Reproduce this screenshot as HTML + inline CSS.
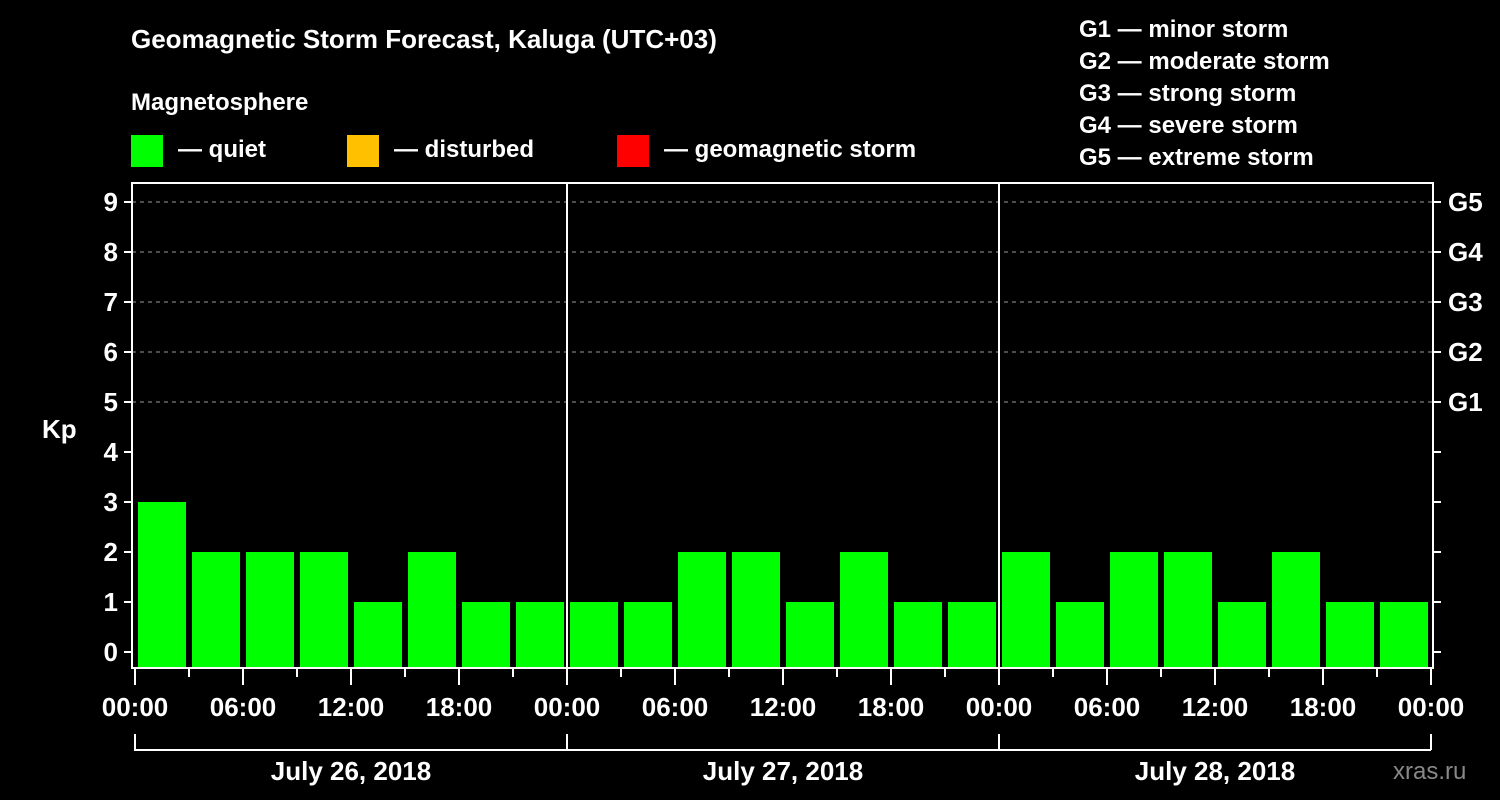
<!DOCTYPE html>
<html><head><meta charset="utf-8"><style>
html,body{margin:0;padding:0;background:#000;}
svg{display:block;font-family:"Liberation Sans",Arial,sans-serif;font-weight:bold;}
</style></head><body>
<svg id="chart" width="1500" height="800" viewBox="0 0 1500 800">
<rect width="1500" height="800" fill="#000"/>
<text x="131" y="48" fill="#fff" font-size="26">Geomagnetic Storm Forecast, Kaluga (UTC+03)</text>
<text x="131" y="110" fill="#fff" font-size="24">Magnetosphere</text>
<g><rect x="131" y="135" width="32" height="32" fill="#00ff00"/><text x="178" y="157" fill="#fff" font-size="24">— quiet</text></g>
<g><rect x="347" y="135" width="32" height="32" fill="#ffc000"/><text x="394" y="157" fill="#fff" font-size="24">— disturbed</text></g>
<g><rect x="617" y="135" width="32" height="32" fill="#ff0000"/><text x="664" y="157" fill="#fff" font-size="24">— geomagnetic storm</text></g>
<g fill="#fff" font-size="24">
<text x="1079" y="37">G1 — minor storm</text>
<text x="1079" y="69">G2 — moderate storm</text>
<text x="1079" y="101">G3 — strong storm</text>
<text x="1079" y="133">G4 — severe storm</text>
<text x="1079" y="165">G5 — extreme storm</text>
</g>
<text x="42" y="438" fill="#fff" font-size="26">Kp</text>
<text x="1393" y="779" fill="#888" font-size="24" font-weight="normal">xras.ru</text>
<g id="plot"></g>
</svg>
<script>
const kpValues=[3,2,2,2,1,2,1,1, 1,1,2,2,1,2,1,1, 2,1,2,2,1,2,1,1];
const dayLabels=["July 26, 2018","July 27, 2018","July 28, 2018"];
const hourLabels=["00:00","06:00","12:00","18:00"];
const gLabels=["G1","G2","G3","G4","G5"];
const yTicks=[0,1,2,3,4,5,6,7,8,9];

const NS="http://www.w3.org/2000/svg";
const plot=document.getElementById('plot');
const X0=135,SLOT=54,Y0=652,UNIT=50,TOP=183,BOT=668,LEFT=132,RIGHT=1433;
const xs=i=>X0+i*SLOT;
const ys=v=>Y0-v*UNIT;
function mk(tag,attrs,parent){const e=document.createElementNS(NS,tag);for(const k in attrs)e.setAttribute(k,attrs[k]);(parent||plot).appendChild(e);return e;}

// gridlines
for(let v=5;v<=9;v++){
  const l=mk('line',{x1:LEFT,x2:RIGHT,y1:ys(v),y2:ys(v),stroke:'#999','stroke-dasharray':'4,4','stroke-width':1});
  
  
}
// bars
kpValues.forEach((v,i)=>{
  const c=v>=5?'#ff0000':(v>=4?'#ffc000':'#00ff00');
  const r=mk('rect',{x:xs(i)+3,y:ys(v),width:SLOT-6,height:BOT-ys(v),fill:c});
  
  
});
// axes box
const box=mk('rect',{x:LEFT,y:TOP,width:RIGHT-LEFT,height:BOT-TOP,fill:'none',stroke:'#fff','stroke-width':2});


for(let d=1;d<3;d++){
  const l=mk('line',{x1:xs(d*8),x2:xs(d*8),y1:TOP,y2:BOT,stroke:'#fff','stroke-width':2});
  
  
}
// y ticks
yTicks.forEach(v=>{
  mk('line',{x1:LEFT-8,x2:LEFT,y1:ys(v),y2:ys(v),stroke:'#fff','stroke-width':2});
  mk('line',{x1:RIGHT,x2:RIGHT+8,y1:ys(v),y2:ys(v),stroke:'#fff','stroke-width':2});
  const t=mk('text',{x:LEFT-14,y:ys(v)+9,fill:'#fff','font-size':26,'text-anchor':'end'});
  t.textContent=v;
  
  
});
gLabels.forEach((g,i)=>{
  const t=mk('text',{x:1448,y:ys(i+5)+9,fill:'#fff','font-size':26});
  t.textContent=g;
  
  
});
// x ticks
for(let i=0;i<=24;i++){
  const major=i%2===0;
  mk('line',{x1:xs(i),x2:xs(i),y1:BOT,y2:BOT+(major?17:9),stroke:'#fff','stroke-width':2});
  if(major){
    const t=mk('text',{x:xs(i),y:716,fill:'#fff','font-size':26,'text-anchor':'middle'});
    t.textContent=hourLabels[(i/2)%4];
    
    
  }
}
// day brackets
dayLabels.forEach((d,k)=>{
  const a=xs(k*8),b=xs(k*8+8);
  mk('path',{d:`M${a} 734 V750 H${b}`+(k===2?` M${b} 734 V750`:''),stroke:'#fff','stroke-width':2,fill:'none'});
  const t=mk('text',{x:(a+b)/2,y:780,fill:'#fff','font-size':26,'text-anchor':'middle'});
  t.textContent=d;
  
  
});
</script>
</body></html>
